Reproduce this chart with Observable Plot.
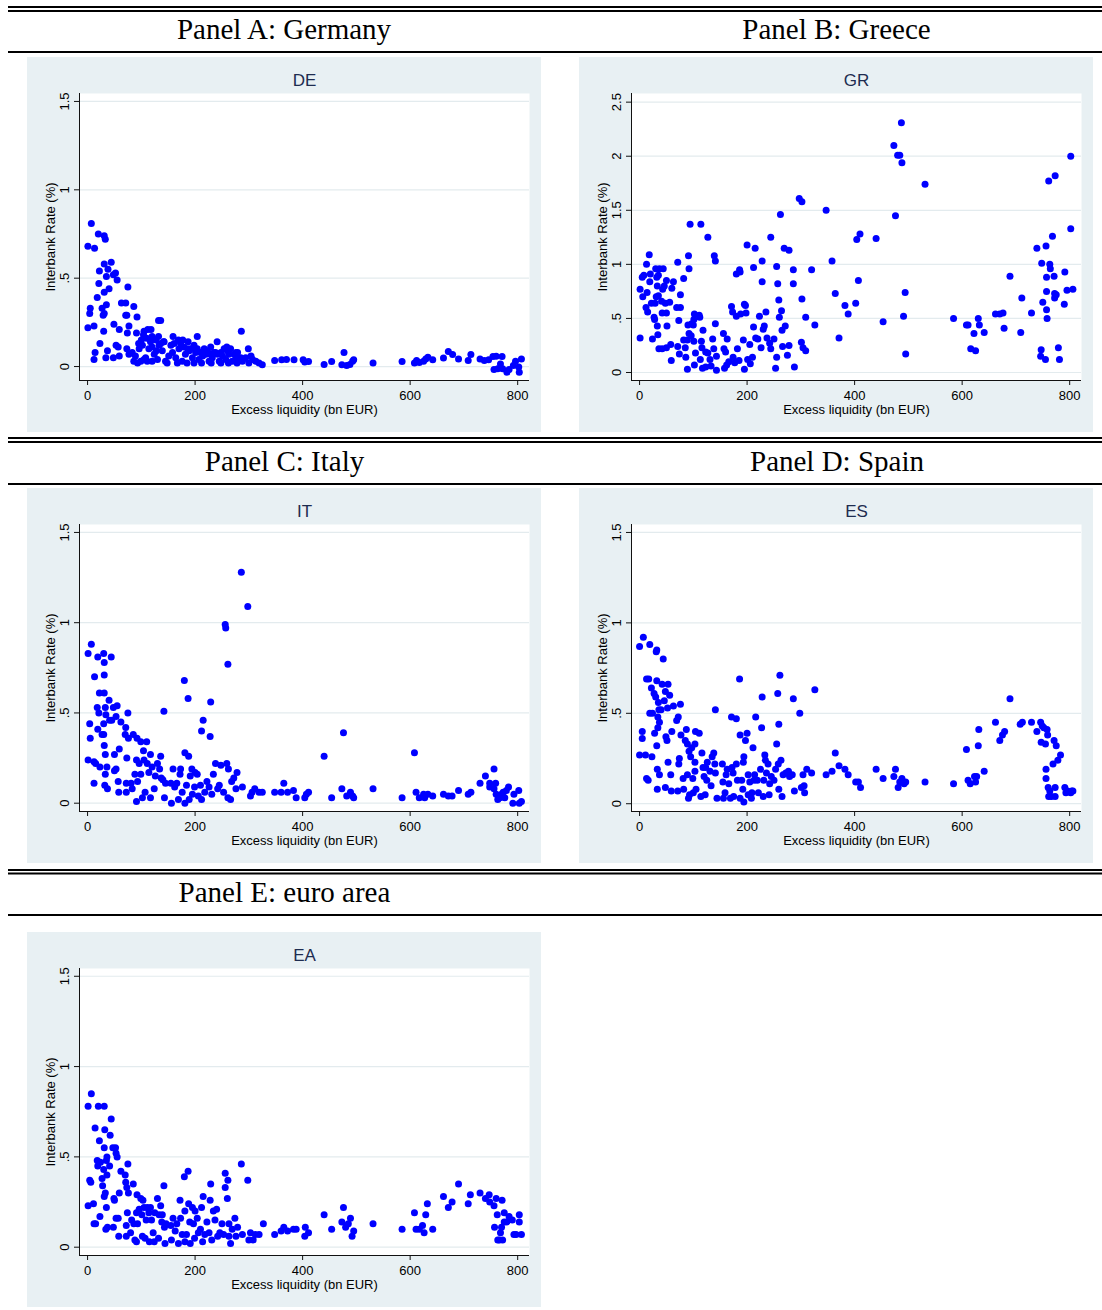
<!DOCTYPE html>
<html><head><meta charset="utf-8">
<script src="https://cdn.jsdelivr.net/npm/d3@7"></script>
<script src="https://cdn.jsdelivr.net/npm/@observablehq/plot@0.6"></script>
<style>
html,body{margin:0;padding:0;background:#fff}
body{width:1102px;height:1310px;position:relative;overflow:hidden}
.box{position:absolute;width:514px;height:375px}
#overlay{position:absolute;left:0;top:0}
</style></head><body>
<svg id="overlay" width="1102" height="1310"></svg>
<script>
// ---------- data ----------
const xTicks = [0, 200, 400, 600, 800];
const yTicksStd = [0, 0.5, 1, 1.5];
const yTicksGR = [0, 0.5, 1, 1.5, 2, 2.5];
const xTitle = "Excess liquidity (bn EUR)";
const yTitle = "Interbank Rate (%)";
const sectionTitles = ["Panel A: Germany", "Panel B: Greece", "Panel C: Italy", "Panel D: Spain", "Panel E: euro area"];
const panelCodes = ["DE", "GR", "IT", "ES", "EA"];

const deData = [[0.6,0.68],[7,0.81],[13,0.67],[20,0.75],[31,0.74],[33,0.72],[22,0.54],[31,0.58],[44,0.59],[38,0.55],[35,0.51],[52,0.53],[48,0.52],[55,0.49],[21,0.47],[31,0.42],[40,0.44],[18,0.39],[35,0.35],[27,0.33],[5,0.33],[4,0.30],[31,0.30],[29,0.29],[63,0.36],[71,0.36],[75,0.45],[86,0.34],[71,0.29],[73,0.29],[92,0.28],[0.6,0.22],[12,0.23],[30,0.20],[49,0.24],[59,0.21],[77,0.23],[74,0.19],[132,0.26],[136,0.26],[23,0.13],[14,0.08],[12,0.04],[37,0.09],[34,0.05],[48,0.05],[53,0.12],[57,0.11],[59,0.06],[73,0.10],[91,0.19],[105,0.20],[112,0.21],[118,0.21],[104,0.18],[120,0.17],[132,0.17],[142,0.14],[159,0.17],[169,0.15],[177,0.15],[187,0.14],[204,0.17],[241,0.14],[259,0.11],[286,0.20],[299,0.10],[229,0.11],[276,0.08],
[83,0.08],[89,0.06],[96,0.10],[102,0.12],[108,0.05],[114,0.10],[124,0.07],[133,0.12],[139,0.09],[145,0.03],[151,0.06],[158,0.08],[164,0.05],[170,0.10],[176,0.03],[182,0.07],[189,0.09],[195,0.05],[201,0.08],[207,0.04],[214,0.06],[220,0.07],[226,0.03],[232,0.05],[238,0.08],[245,0.03],[251,0.06],[257,0.04],[263,0.07],[269,0.03],[276,0.05],[282,0.04],[288,0.03],[300,0.02],[307,0.04],[313,0.03],[319,0.02],[325,0.01],[77,0.07],[86,0.03],[99,0.03],[111,0.03],[117,0.14],[127,0.15],[136,0.13],[142,0.14],[155,0.12],[161,0.13],[173,0.13],[179,0.11],[186,0.10],[192,0.10],[198,0.12],[204,0.10],[210,0.08],[217,0.10],[223,0.09],[229,0.07],[235,0.08],[242,0.07],[248,0.08],[254,0.10],[260,0.09],[266,0.10],[273,0.07],[279,0.08],[285,0.05],[294,0.05],[304,0.06],
[93,0.02],[105,0.04],[120,0.03],[130,0.04],[148,0.02],[167,0.02],[185,0.02],[198,0.02],[212,0.02],[230,0.02],[248,0.02],[262,0.02],[278,0.02],[120,0.11],[128,0.09],[95,0.13],[100,0.15],[110,0.16],
[348,0.034],[361,0.038],[370,0.04],[384,0.038],[401,0.038],[404,0.025],[411,0.028],[440,0.011],[454,0.028],[473,0.01],[477,0.08],[482,0.006],[488,0.011],[493,0.03],[495,0.038],[531,0.02],[585,0.028],[608,0.02],[612,0.034],[617,0.023],[625,0.03],[629,0.043],[633,0.053],[642,0.038],[662,0.049],[671,0.085],[679,0.068],[690,0.043],[708,0.034],[713,0.068],[730,0.043],[738,0.034],[746,0.038],[754,0.057],[760,0.058],[756,-0.017],[763,-0.013],[768,0.015],[771,0.057],[772,-0.013],[780,-0.032],[784,-0.017],[792,0.006],[796,0.03],[802,-0.002],[803,-0.032],[807,0.043]];

const grData = [[1,0.77],[1,0.32],[6,0.70],[5,0.88],[8,0.90],[12,0.60],[14,0.74],[13,1.00],[15,0.56],[18,1.09],[19,0.84],[20,0.91],[22,0.64],[24,0.31],[27,0.51],[28,0.49],[29,0.64],[30,0.96],[32,0.88],[31,0.70],[33,0.80],[33,0.43],[34,0.35],[35,0.90],[35,0.71],[37,0.96],[36,0.22],[41,0.66],[42,0.22],[44,0.96],[43,0.77],[46,0.80],[42,0.55],[50,0.55],[48,0.64],[50,0.23],[51,0.43],[50,0.85],[56,0.65],[58,0.26],[59,0.11],[60,0.78],[63,0.84],[69,0.60],[71,1.02],[71,0.24],[74,0.17],[73,0.48],[76,0.60],[76,0.72],[82,0.87],[82,0.30],[85,0.23],[86,0.14],[89,0.30],[90,0.44],[91,1.08],[92,0.96],[94,1.37],[92,0.36],[89,0.03],[96,0.34],[97,0.45],[101,0.49],[102,0.54],[101,0.29],[104,0.18],[102,0.07],[100,0.44],[111,0.53],[112,0.51],[114,1.37],[115,0.29],[116,0.23],[117,0.04],[118,0.39],[113,0.12],[123,0.05],[123,0.19],[127,1.25],[127,0.18],[131,0.12],[133,0.06],[136,0.31],[138,0.22],[139,1.08],[141,1.03],[141,0.45],[143,0.15],[143,0.02],[156,0.36],[157,0.22],[158,0.04],[160,0.19],[163,0.31],[162,0.07],[166,0.10],[171,0.61],[173,0.56],[174,0.14],[177,0.09],[180,0.52],[182,0.22],[180,0.91],[186,0.95],[187,0.93],[188,0.54],[185,0.11],[193,0.30],[195,0.63],[195,0.03],[197,0.62],[198,0.55],[200,1.18],[201,0.12],[205,0.26],[206,0.08],[210,0.14],[212,0.42],[212,0.97],[215,1.15],[216,0.32],[220,0.31],[223,0.52],[226,0.23],[228,1.03],[228,0.84],[230,0.40],[232,0.43],[235,0.56],[237,0.32],[242,0.27],[244,1.25],[244,0.22],[250,0.31],[253,0.04],[255,0.14],[255,0.98],[257,0.82],[259,0.67],[260,0.51],[262,1.46],[264,0.57],[265,0.39],[266,0.24],[269,1.15],[271,0.43],[275,0.16],[278,1.13],[278,0.25],[286,0.95],[286,0.82],[288,0.05],[297,1.61],[302,1.58],[302,0.68],[301,0.28],[304,0.23],[309,0.20],[309,0.51],[320,0.95],[326,0.44],[347,1.50],[358,1.03],[364,0.73],[371,0.32],[382,0.62],[388,0.54],[402,0.64],[404,1.23],[410,1.28],[407,0.85],[440,1.24],[453,0.47],[473,2.10],[476,1.45],[480,2.01],[484,2.01],[487,2.31],[488,1.94],[491,0.52],[494,0.74],[495,0.17],[531,1.74],[584,0.50],[608,0.44],[611,0.44],[616,0.22],[622,0.36],[625,0.20],[630,0.50],[632,0.44],[641,0.37],[662,0.54],[670,0.54],[676,0.55],[678,0.41],[689,0.89],[709,0.37],[711,0.69],[729,0.55],[739,1.15],[748,1.01],[747,0.21],[746,0.15],[750,0.65],[755,0.12],[756,1.17],[757,0.88],[757,0.75],[757,0.58],[758,0.50],[761,1.77],[763,1.00],[764,0.96],[768,1.26],[771,0.89],[772,0.73],[772,0.69],[773,1.82],[775,0.72],[779,0.23],[781,0.12],[790,0.63],[791,0.93],[795,0.76],[802,2.00],[802,1.33],[806,0.77]];

const itData = [[1,0.83],[7,0.88],[1,0.24],[4,0.44],[5,0.36],[12,0.23],[12,0.11],[13,0.70],[15,0.22],[19,0.81],[18,0.53],[19,0.41],[21,0.50],[22,0.61],[23,0.20],[27,0.38],[30,0.83],[31,0.61],[31,0.78],[31,0.71],[30,0.44],[30,0.38],[31,0.32],[33,0.27],[33,0.53],[34,0.49],[33,0.16],[32,0.10],[36,0.20],[37,0.08],[40,0.57],[41,0.46],[44,0.81],[45,0.46],[48,0.53],[50,0.18],[50,0.27],[53,0.48],[55,0.54],[53,0.19],[57,0.12],[59,0.30],[58,0.06],[62,0.45],[71,0.42],[70,0.38],[72,0.11],[73,0.25],[75,0.50],[76,0.36],[72,0.06],[81,0.11],[85,0.38],[83,0.08],[88,0.16],[91,0.24],[91,0.01],[92,0.36],[93,0.12],[96,0.22],[99,0.34],[99,0.16],[102,0.03],[104,0.29],[105,0.24],[107,0.06],[110,0.34],[111,0.22],[114,0.17],[117,0.27],[117,0.03],[120,0.20],[124,0.08],[126,0.15],[130,0.22],[134,0.19],[136,0.26],[137,0.14],[140,0.13],[142,0.51],[143,0.03],[145,0.11],[155,0.11],[159,0.19],[156,0.00],[162,0.09],[166,0.11],[169,0.02],[172,0.16],[173,0.19],[176,0.06],[180,0.68],[181,0.28],[181,0.00],[184,0.10],[187,0.58],[188,0.26],[189,0.02],[191,0.15],[194,0.19],[195,0.05],[199,0.09],[200,0.17],[204,0.16],[206,0.04],[210,0.10],[212,0.40],[212,0.02],[215,0.46],[218,0.06],[222,0.12],[226,0.09],[228,0.37],[229,0.56],[231,0.05],[234,0.16],[238,0.22],[242,0.08],[245,0.10],[248,0.21],[253,0.06],[256,0.99],[257,0.97],[259,0.22],[261,0.77],[262,0.19],[261,0.03],[266,0.02],[268,0.12],[272,0.14],[276,0.08],[278,0.17],[286,1.28],[288,0.09],[298,1.09],[303,0.04],[306,0.06],[311,0.08],[319,0.06],[325,0.06],[348,0.06],[360,0.06],[365,0.11],[372,0.06],[383,0.07],[388,0.03],[404,0.03],[407,0.05],[411,0.06],[440,0.26],[454,0.03],[473,0.08],[476,0.39],[482,0.04],[489,0.06],[493,0.04],[495,0.03],[531,0.08],[585,0.03],[608,0.28],[611,0.06],[617,0.03],[625,0.05],[627,0.03],[633,0.05],[642,0.04],[662,0.05],[671,0.04],[678,0.04],[690,0.07],[708,0.05],[713,0.06],[730,0.11],[740,0.15],[748,0.11],[748,0.09],[756,0.19],[756,0.08],[759,0.11],[760,0.05],[763,0.02],[767,0.03],[770,0.05],[773,0.06],[776,0.03],[779,0.07],[783,0.09],[791,0.00],[793,0.05],[802,0.07],[803,0.00],[807,0.01]];

const esData = [[0,0.87],[0,0.27],[5,0.40],[5,0.36],[7,0.92],[11,0.27],[13,0.69],[13,0.14],[16,0.13],[17,0.69],[19,0.88],[19,0.50],[22,0.64],[23,0.26],[24,0.50],[27,0.61],[28,0.39],[30,0.59],[32,0.32],[31,0.84],[32,0.85],[32,0.68],[33,0.19],[33,0.08],[34,0.48],[34,0.42],[35,0.56],[36,0.52],[37,0.45],[37,0.16],[40,0.52],[42,0.66],[44,0.80],[46,0.57],[48,0.09],[48,0.62],[49,0.37],[51,0.35],[52,0.53],[53,0.66],[53,0.23],[56,0.60],[58,0.16],[59,0.07],[60,0.40],[63,0.54],[69,0.46],[71,0.07],[72,0.48],[73,0.22],[74,0.25],[76,0.55],[77,0.38],[81,0.14],[82,0.08],[85,0.35],[87,0.41],[89,0.33],[89,0.16],[91,0.03],[92,0.29],[93,0.05],[95,0.26],[97,0.31],[99,0.14],[100,0.06],[103,0.33],[103,0.18],[104,0.40],[105,0.08],[103,0.23],[111,0.39],[114,0.04],[116,0.28],[118,0.20],[120,0.15],[122,0.05],[123,0.20],[125,0.13],[126,0.23],[131,0.18],[133,0.10],[135,0.26],[138,0.28],[140,0.22],[141,0.52],[141,0.17],[144,0.03],[154,0.22],[155,0.12],[156,0.03],[159,0.06],[161,0.16],[163,0.19],[166,0.11],[169,0.03],[171,0.48],[172,0.20],[174,0.17],[175,0.04],[180,0.47],[180,0.22],[182,0.13],[186,0.69],[187,0.38],[187,0.03],[190,0.13],[192,0.08],[193,0.23],[194,0.26],[194,0.01],[197,0.35],[200,0.39],[202,0.16],[202,0.05],[205,0.12],[208,0.03],[209,0.06],[211,0.31],[213,0.13],[214,0.16],[216,0.48],[219,0.13],[221,0.06],[225,0.19],[227,0.42],[228,0.59],[230,0.04],[231,0.13],[233,0.27],[234,0.24],[236,0.17],[239,0.22],[241,0.05],[242,0.11],[245,0.15],[250,0.13],[253,0.19],[255,0.33],[257,0.61],[258,0.22],[259,0.08],[259,0.44],[261,0.71],[263,0.24],[265,0.04],[267,0.16],[272,0.17],[277,0.18],[279,0.15],[284,0.16],[286,0.58],[288,0.07],[298,0.50],[301,0.09],[304,0.16],[306,0.10],[307,0.06],[311,0.19],[320,0.17],[326,0.63],[347,0.16],[358,0.18],[364,0.28],[371,0.21],[382,0.19],[388,0.16],[402,0.12],[407,0.12],[411,0.09],[440,0.19],[453,0.14],[473,0.15],[476,0.19],[481,0.09],[484,0.12],[488,0.14],[492,0.11],[495,0.12],[531,0.12],[584,0.11],[608,0.30],[611,0.13],[615,0.11],[623,0.15],[625,0.12],[627,0.15],[630,0.32],[631,0.41],[641,0.18],[662,0.45],[670,0.35],[675,0.38],[679,0.40],[689,0.58],[708,0.44],[712,0.45],[729,0.45],[739,0.40],[746,0.45],[747,0.34],[749,0.43],[752,0.42],[755,0.33],[756,0.19],[756,0.14],[758,0.41],[759,0.38],[760,0.09],[761,0.04],[763,0.07],[766,0.04],[769,0.22],[771,0.35],[773,0.09],[773,0.04],[775,0.32],[778,0.24],[783,0.27],[791,0.09],[793,0.06],[796,0.07],[802,0.06],[804,0.07],[806,0.07]];

const eaData = [[1,0.78],[7,0.85],[1,0.23],[4,0.37],[6,0.36],[11,0.24],[12,0.13],[14,0.66],[15,0.13],[18,0.48],[19,0.45],[20,0.78],[22,0.59],[23,0.17],[24,0.47],[27,0.38],[28,0.34],[30,0.43],[31,0.78],[32,0.65],[31,0.55],[33,0.30],[31,0.28],[34,0.10],[35,0.48],[36,0.40],[35,0.22],[36,0.50],[37,0.11],[41,0.45],[42,0.62],[44,0.71],[47,0.55],[48,0.11],[49,0.27],[50,0.26],[52,0.55],[53,0.52],[55,0.50],[53,0.16],[57,0.16],[58,0.06],[59,0.30],[62,0.42],[70,0.40],[71,0.36],[72,0.12],[73,0.33],[74,0.19],[75,0.46],[76,0.30],[72,0.06],[80,0.08],[82,0.15],[85,0.35],[86,0.13],[88,0.04],[91,0.19],[91,0.03],[92,0.29],[93,0.13],[96,0.21],[99,0.27],[101,0.18],[102,0.06],[103,0.26],[105,0.22],[107,0.05],[109,0.15],[111,0.22],[114,0.19],[115,0.03],[117,0.22],[119,0.15],[122,0.08],[124,0.03],[125,0.19],[130,0.27],[132,0.05],[133,0.18],[136,0.23],[138,0.14],[139,0.18],[142,0.34],[143,0.11],[144,0.02],[146,0.13],[155,0.12],[156,0.04],[159,0.16],[163,0.09],[166,0.13],[169,0.02],[172,0.26],[173,0.16],[176,0.07],[180,0.39],[181,0.20],[181,0.03],[184,0.07],[187,0.42],[188,0.24],[190,0.14],[191,0.02],[195,0.22],[197,0.13],[199,0.05],[200,0.20],[204,0.16],[206,0.08],[210,0.10],[212,0.22],[214,0.03],[215,0.28],[218,0.07],[222,0.14],[226,0.08],[228,0.26],[229,0.35],[231,0.04],[234,0.20],[237,0.15],[240,0.21],[242,0.06],[246,0.08],[250,0.13],[253,0.07],[256,0.41],[256,0.33],[260,0.27],[261,0.37],[263,0.13],[263,0.06],[266,0.02],[269,0.10],[274,0.16],[276,0.06],[279,0.11],[286,0.46],[288,0.07],[298,0.37],[300,0.04],[303,0.08],[308,0.04],[312,0.07],[319,0.07],[327,0.13],[348,0.07],[360,0.09],[365,0.11],[372,0.09],[383,0.10],[388,0.10],[404,0.06],[405,0.11],[411,0.08],[440,0.18],[454,0.10],[473,0.14],[476,0.22],[480,0.11],[485,0.13],[489,0.16],[492,0.06],[495,0.09],[531,0.13],[585,0.10],[608,0.19],[611,0.10],[617,0.10],[623,0.12],[626,0.08],[629,0.18],[632,0.24],[642,0.10],[662,0.28],[671,0.22],[678,0.25],[690,0.35],[708,0.24],[712,0.29],[730,0.30],[740,0.27],[747,0.29],[748,0.25],[756,0.23],[757,0.11],[760,0.27],[762,0.18],[763,0.04],[766,0.04],[768,0.08],[770,0.11],[771,0.26],[772,0.04],[775,0.19],[775,0.14],[780,0.14],[784,0.17],[790,0.15],[793,0.07],[797,0.07],[803,0.18],[803,0.14],[807,0.07]];

// ---------- layout ----------
const BG = "#e8f0f3";
const panels = [
  {code: panelCodes[0], data: deData, left: 27,  top: 57,  yDomain: [-0.079, 1.545], yTicks: yTicksStd},
  {code: panelCodes[1], data: grData, left: 579, top: 57,  yDomain: [-0.074, 2.58],  yTicks: yTicksGR},
  {code: panelCodes[2], data: itData, left: 27,  top: 488, yDomain: [-0.046, 1.544], yTicks: yTicksStd},
  {code: panelCodes[3], data: esData, left: 579, top: 488, yDomain: [-0.043, 1.544], yTicks: yTicksStd},
  {code: panelCodes[4], data: eaData, left: 27,  top: 932, yDomain: [-0.046, 1.543], yTicks: yTicksStd}
];
const xDomain = [-15, 822];
const fmt = d => d === 0 ? "0" : String(d).replace(/^0\./, ".");

// rules and section headers (overlay svg)
const ov = d3.select("#overlay");
const rules = [6, 10, 51, 437, 441, 483, 869, 872.5, 914];
ov.selectAll("rect.rule").data(rules).join("rect")
  .attr("x", 8).attr("y", d => d).attr("width", 1094).attr("height", 2).attr("fill", "#000");
const headerPos = [[284, 39], [836.5, 39], [284.5, 470.5], [837, 470.5], [284.5, 901.5]];
ov.selectAll("text.hdr").data(sectionTitles).join("text")
  .attr("x", (d, i) => headerPos[i][0]).attr("y", (d, i) => headerPos[i][1])
  .attr("text-anchor", "middle")
  .attr("font-family", "'Liberation Serif','Times New Roman',serif")
  .attr("font-size", 29).attr("fill", "#000").text(d => d);

for (const p of panels) {
  const chart = Plot.plot({
    width: 514, height: 375,
    marginLeft: 52, marginRight: 12, marginTop: 36, marginBottom: 52,
    style: {background: BG, fontFamily: "'Liberation Sans', Arial, sans-serif", fontSize: "13px", color: "#000", overflow: "visible"},
    x: {domain: xDomain},
    y: {domain: p.yDomain},
    marks: [
      Plot.frame({fill: "white", stroke: null}),
      Plot.gridY(p.yTicks, {stroke: "#e3ebee", strokeOpacity: 1, strokeWidth: 1.2}),
      Plot.dot(p.data, {x: d => d[0], y: d => d[1], r: 3.5, fill: "#0000ff", stroke: null}),
      Plot.ruleX([xDomain[0]], {stroke: "#111", strokeWidth: 1}),
      Plot.ruleY([p.yDomain[0]], {stroke: "#111", strokeWidth: 1}),
      Plot.axisX({ticks: xTicks, tickSize: 5, tickPadding: 5, label: null, fontSize: 13, stroke: "#111"}),
      Plot.axisY({ticks: p.yTicks, tickSize: 5, tickFormat: () => "", label: null, stroke: "#111"}),
      Plot.text(p.yTicks, {frameAnchor: "left", y: d => d, text: fmt, rotate: -90, dx: -15, textAnchor: "middle", lineAnchor: "middle", fontSize: 13, fill: "#000"}),
      Plot.text([yTitle], {frameAnchor: "left", text: d => d, rotate: -90, dx: -29, textAnchor: "middle", lineAnchor: "middle", fontSize: 13, fill: "#000"}),
      Plot.text([xTitle], {frameAnchor: "bottom", text: d => d, dy: 29, textAnchor: "middle", lineAnchor: "middle", fontSize: 13, fill: "#000"}),
      Plot.text([p.code], {frameAnchor: "top", text: d => d, dy: -13, textAnchor: "middle", lineAnchor: "middle", fontSize: 17, fill: "#1e2c50"})
    ]
  });
  const div = document.createElement("div");
  div.className = "box";
  div.style.left = p.left + "px";
  div.style.top = p.top + "px";
  div.style.background = BG;
  div.appendChild(chart);
  document.body.appendChild(div);
}
</script>
</body></html>
